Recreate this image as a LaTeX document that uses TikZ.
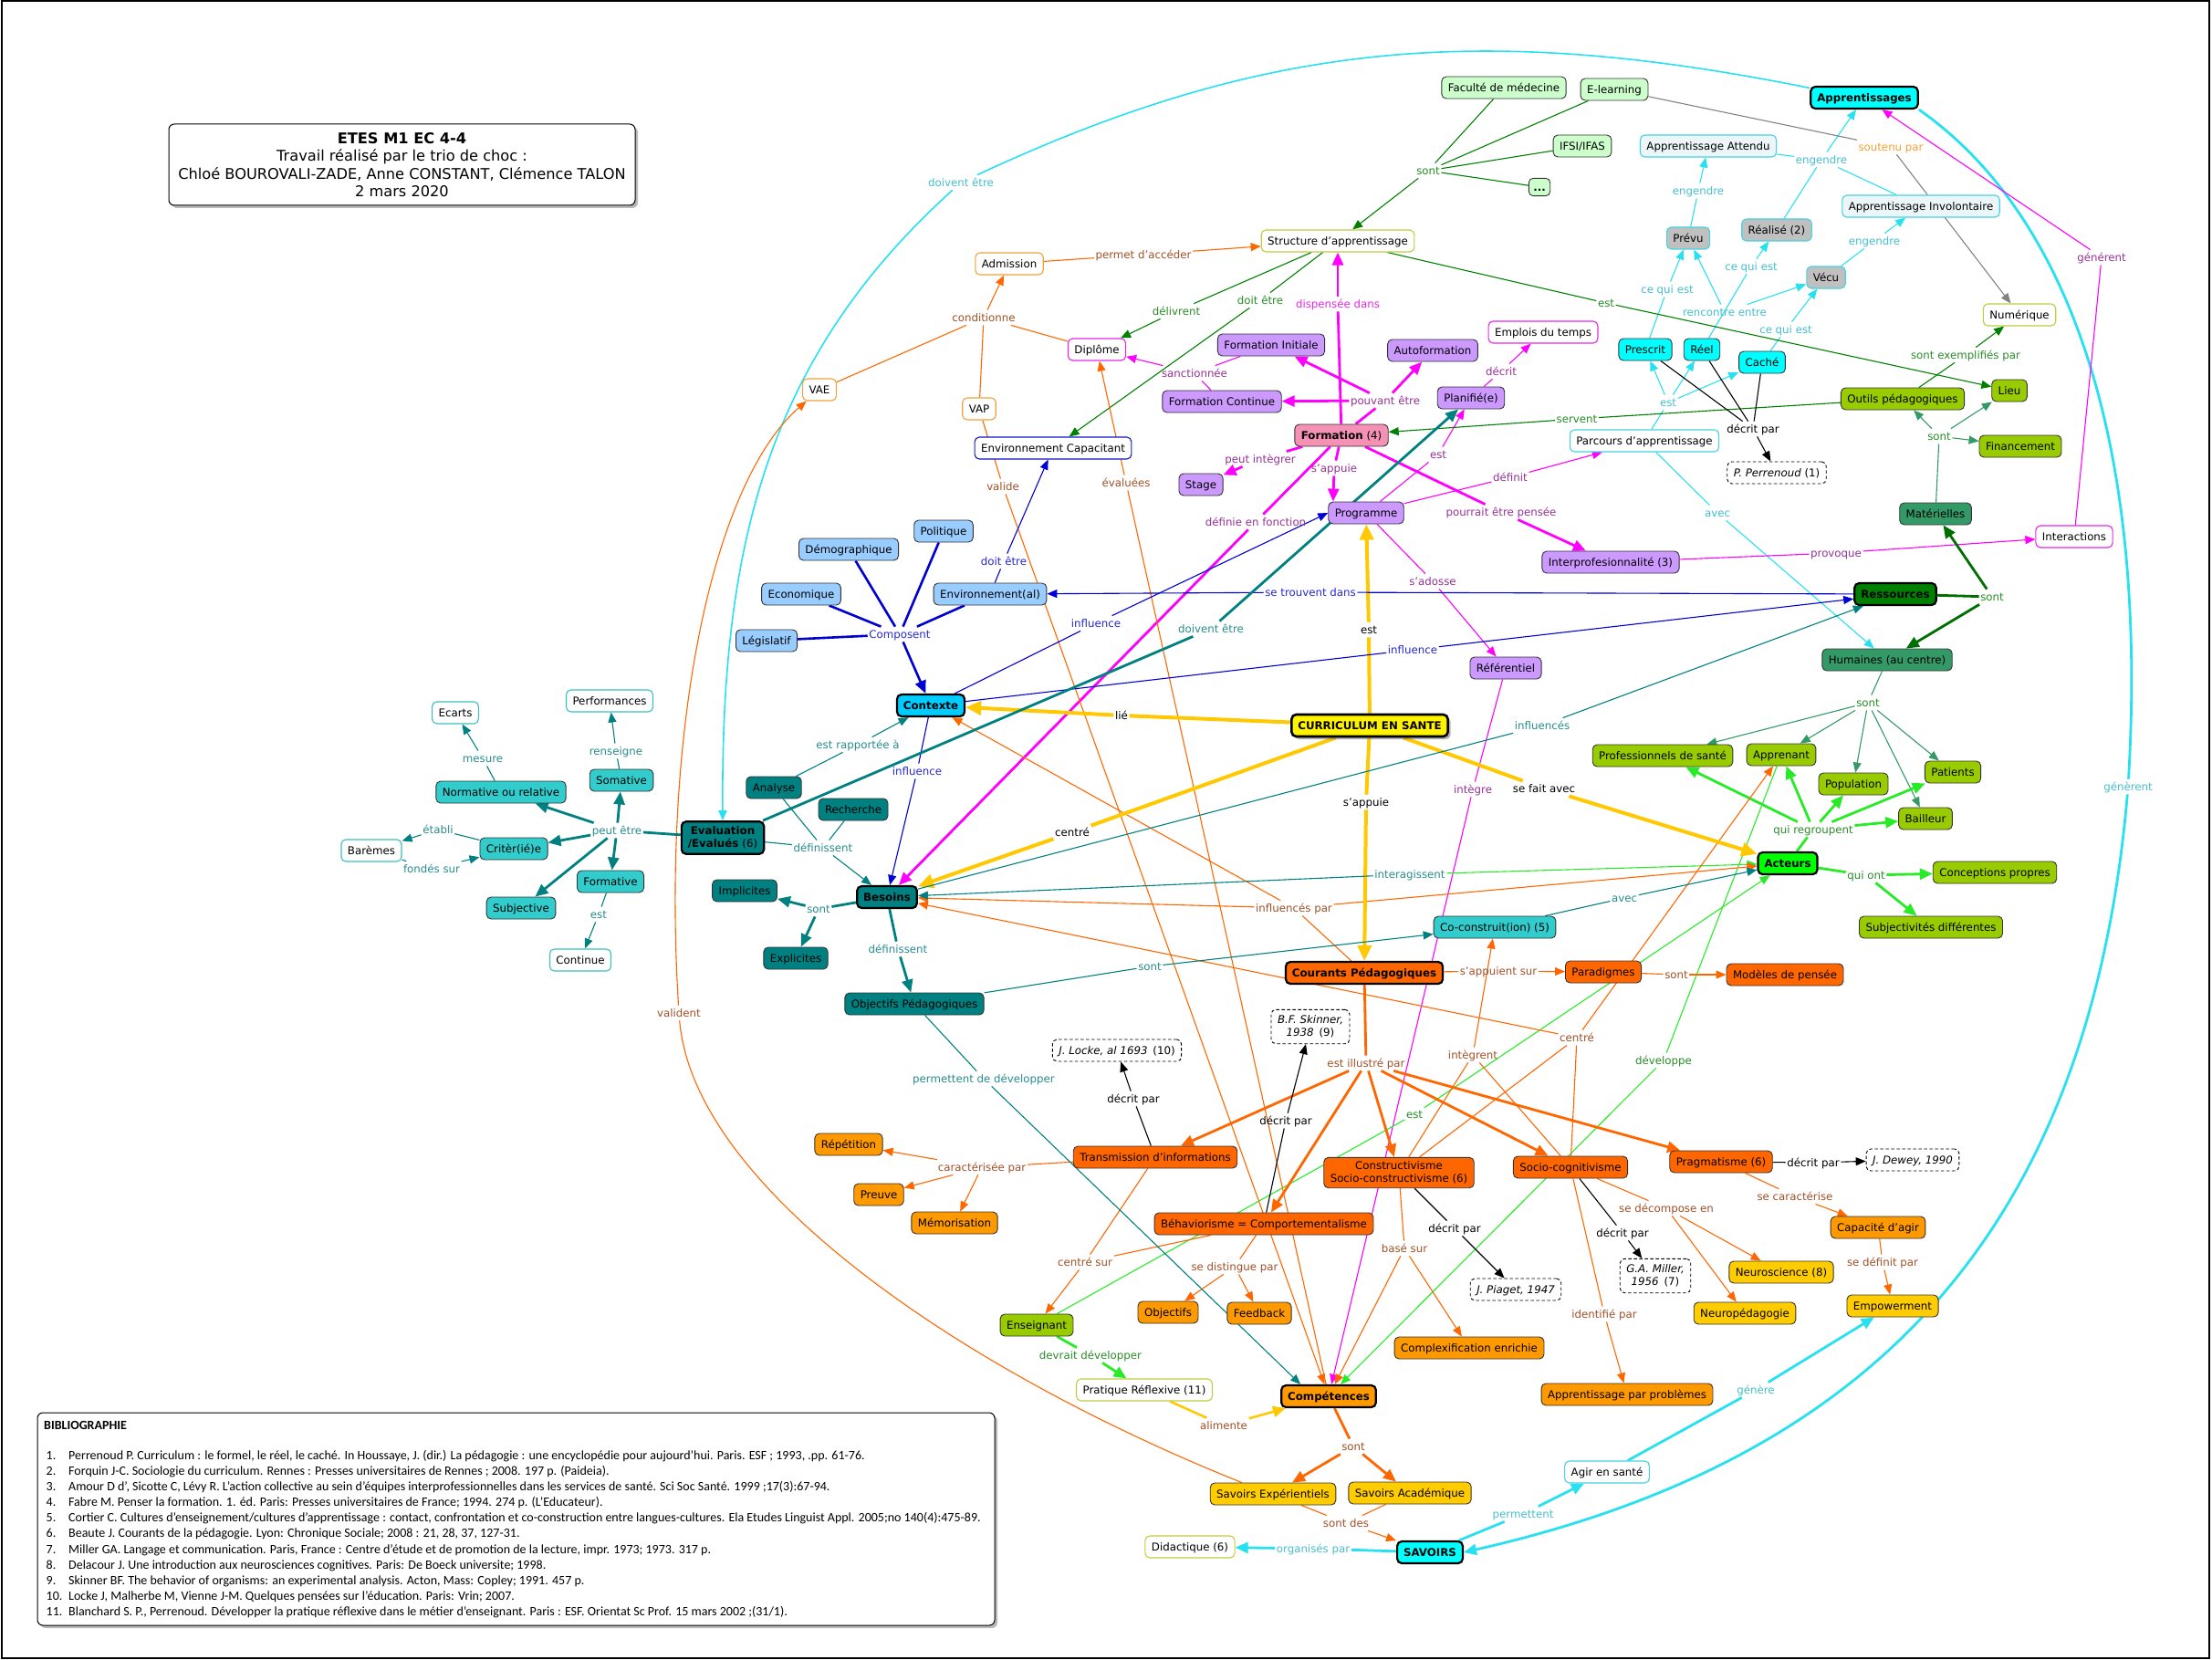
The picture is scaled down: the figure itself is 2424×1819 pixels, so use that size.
\documentclass[tikz,border=0pt]{standalone}
\usepackage{fontspec}
\setmainfont{DejaVu Sans}
\newfontfamily\biblfont{Carlito}
\usetikzlibrary{arrows.meta,shadows,backgrounds}

\definecolor{lcyan}{RGB}{40,225,240}
\definecolor{tcyan}{RGB}{70,190,205}
\definecolor{lmag}{RGB}{255,0,255}
\definecolor{tpurp}{RGB}{150,50,150}
\definecolor{tmag}{RGB}{230,40,230}
\definecolor{lgrn}{RGB}{0,128,0}
\definecolor{tgrn}{RGB}{40,140,40}
\definecolor{lsea}{RGB}{51,153,102}
\definecolor{ldgrn}{RGB}{0,110,0}
\definecolor{llime}{RGB}{40,235,40}
\definecolor{lorg}{RGB}{255,102,0}
\definecolor{tbrown}{RGB}{160,80,40}
\definecolor{torg}{RGB}{240,160,50}
\definecolor{lgold}{RGB}{255,200,0}
\definecolor{lblu}{RGB}{0,0,210}
\definecolor{tblu}{RGB}{40,40,210}
\definecolor{lteal}{RGB}{0,128,128}
\definecolor{tteal}{RGB}{40,140,140}
\definecolor{lgray}{RGB}{130,130,130}
\definecolor{fmint}{RGB}{204,255,204}
\definecolor{fpurp}{RGB}{204,153,255}
\definecolor{fpink}{RGB}{245,145,180}
\definecolor{fsky}{RGB}{153,204,255}
\definecolor{fctx}{RGB}{0,204,255}
\definecolor{fteal}{RGB}{0,128,128}
\definecolor{faqua}{RGB}{51,204,204}
\definecolor{fred}{RGB}{255,102,0}
\definecolor{famber}{RGB}{255,153,0}
\definecolor{fgold}{RGB}{255,204,0}
\definecolor{flime}{RGB}{153,204,0}
\definecolor{fgreen}{RGB}{0,255,0}
\definecolor{fdgrn}{RGB}{0,128,0}
\definecolor{fsea}{RGB}{51,153,102}
\definecolor{fcyan}{RGB}{0,255,255}
\definecolor{fgray}{RGB}{192,192,192}
\definecolor{fpale}{RGB}{236,245,248}
\definecolor{bolive}{RGB}{190,205,60}
\definecolor{borg}{RGB}{240,160,60}
\definecolor{bcyan}{RGB}{70,210,225}
\definecolor{bteal}{RGB}{60,190,190}
\definecolor{bmag}{RGB}{230,40,230}
\definecolor{bblu}{RGB}{20,20,200}

\begin{document}
\begin{tikzpicture}[x=1pt,y=-1pt,font=\fontsize{11.8}{14}\selectfont,
  cbox/.style={rectangle,rounded corners=5pt,draw=black!80,line width=0.9pt,
    inner xsep=7pt,inner ysep=3pt,minimum height=24pt,align=center,
    execute at begin node=\vphantom{Ág}},
  hubbox/.style={cbox,draw=black,line width=2.2pt,font=\fontsize{11.8}{14}\selectfont\bfseries},
  mintbox/.style={cbox,fill=fmint},
  purpbox/.style={cbox,fill=fpurp},
  skybox/.style={cbox,fill=fsky},
  tealbox/.style={cbox,fill=fteal},
  aquabox/.style={cbox,fill=faqua},
  redbox/.style={cbox,fill=fred},
  ambbox/.style={cbox,fill=famber},
  goldbox/.style={cbox,fill=fgold},
  limebox/.style={cbox,fill=flime},
  seabox/.style={cbox,fill=fsea},
  cyanbox/.style={cbox,fill=fcyan},
  graybox/.style={cbox,fill=fgray,draw=bcyan,line width=1.1pt},
  palebox/.style={cbox,fill=fpale,draw=bcyan,line width=1.1pt},
  wbox/.style={cbox,fill=white,line width=1.1pt},
  refbox/.style={cbox,fill=white,draw=black,dash pattern=on 3.5pt off 2.5pt},
  titlebox/.style={rectangle,rounded corners=6pt,draw=black,line width=1pt,fill=white,
    align=center,drop shadow={shadow xshift=3pt,shadow yshift=-3pt,fill=black!55}},
  lnk/.style={inner sep=1.5pt,execute at begin node=\vphantom{Ág}},
  tcy/.style={lnk,text=tcyan},
  tpu/.style={lnk,text=tpurp},
  tmg/.style={lnk,text=tmag},
  tgr/.style={lnk,text=tgrn},
  tbr/.style={lnk,text=tbrown},
  tor/.style={lnk,text=torg},
  tbk/.style={lnk,text=black},
  tbl/.style={lnk,text=tblu},
  ttl/.style={lnk,text=tteal},
  arr/.style={-{Triangle[length=11pt,width=9pt]}},
  bigarr/.style={-{Triangle[length=14pt,width=12pt]}},
  hugearr/.style={-{Triangle[length=17pt,width=15pt]}},
  cyanln/.style={color=lcyan,line width=1.1pt},
  cyanmid/.style={color=lcyan,line width=1.6pt},
  cyanthick/.style={color=lcyan,line width=2.8pt},
  magln/.style={color=lmag,line width=1.1pt},
  magthick/.style={color=lmag,line width=2.8pt},
  grnln/.style={color=lgrn,line width=1.1pt},
  sealn/.style={color=lsea,line width=1.1pt},
  dgrnthick/.style={color=ldgrn,line width=2.8pt},
  limeln/.style={color=llime,line width=1.1pt},
  limethick/.style={color=llime,line width=2.8pt},
  orgln/.style={color=lorg,line width=1.1pt},
  orgthick/.style={color=lorg,line width=2.8pt},
  goldthick/.style={color=lgold,line width=4pt},
  goldmid/.style={color=lgold,line width=2.5pt},
  bkln/.style={color=black,line width=1.1pt},
  bluln/.style={color=lblu,line width=1.1pt},
  bluthick/.style={color=lblu,line width=2.6pt},
  tealln/.style={color=lteal,line width=1.1pt},
  tealthick/.style={color=lteal,line width=2.8pt},
  grayln/.style={color=lgray,line width=1.1pt}]

\useasboundingbox (0,0) rectangle (2424,1819);

\node[titlebox,minimum width=511pt,minimum height=89pt,font=\fontsize{16.2}{19.5}\selectfont] (titre) at (440.5,180.5)
  {\textbf{ETES M1 EC 4-4}\\Travail réalisé par le trio de choc :\\Chloé BOUROVALI-ZADE, Anne CONSTANT, Clémence TALON\\2 mars 2020};

\node[titlebox,minimum width=1049pt,minimum height=233pt] (biblio) at (565.5,1664.5) {};
\node[anchor=north west,inner sep=0pt,align=left,font=\biblfont\fontsize{14}{17.1}\selectfont] (bibtxt) at (48,1557)
  {\textbf{BIBLIOGRAPHIE}\\[15.9pt]
  \makebox[27pt][l]{\hspace{2.5pt}1.}Perrenoud P. Curriculum : le formel, le réel, le caché. In Houssaye, J. (dir.) La pédagogie : une encyclopédie pour aujourd’hui. Paris. ESF ; 1993, .pp. 61-76.\\
  \makebox[27pt][l]{\hspace{2.5pt}2.}Forquin J-C. Sociologie du curriculum. Rennes : Presses universitaires de Rennes ; 2008. 197 p. (Paideia).\\
  \makebox[27pt][l]{\hspace{2.5pt}3.}Amour D d’, Sicotte C, Lévy R. L’action collective au sein d’équipes interprofessionnelles dans les services de santé. Sci Soc Santé. 1999 ;17(3):67-94.\\
  \makebox[27pt][l]{\hspace{2.5pt}4.}Fabre M. Penser la formation. 1. éd. Paris: Presses universitaires de France; 1994. 274 p. (L’Educateur).\\
  \makebox[27pt][l]{\hspace{2.5pt}5.}Cortier C. Cultures d’enseignement/cultures d’apprentissage : contact, confrontation et co-construction entre langues-cultures. Ela Etudes Linguist Appl. 2005;no 140(4):475-89.\\
  \makebox[27pt][l]{\hspace{2.5pt}6.}Beaute J. Courants de la pédagogie. Lyon: Chronique Sociale; 2008 : 21, 28, 37, 127-31.\\
  \makebox[27pt][l]{\hspace{2.5pt}7.}Miller GA. Langage et communication. Paris, France : Centre d’étude et de promotion de la lecture, impr. 1973; 1973. 317 p.\\
  \makebox[27pt][l]{\hspace{2.5pt}8.}Delacour J. Une introduction aux neurosciences cognitives. Paris: De Boeck universite; 1998.\\
  \makebox[27pt][l]{\hspace{2.5pt}9.}Skinner BF. The behavior of organisms: an experimental analysis. Acton, Mass: Copley; 1991. 457 p.\\
  \makebox[27pt][l]{\hspace{2.5pt}10.}Locke J, Malherbe M, Vienne J-M. Quelques pensées sur l’éducation. Paris: Vrin; 2007.\\
  \makebox[27pt][l]{\hspace{2.5pt}11.}Blanchard S. P., Perrenoud. Développer la pratique réflexive dans le métier d’enseignant. Paris : ESF. Orientat Sc Prof. 15 mars 2002 ;(31/1).};

\node[mintbox] (fac) at (1648,96) {Faculté de médecine};
\node[mintbox] (elearn) at (1769,98) {E-learning};
\node[mintbox] (ifsi) at (1734,160) {IFSI/IFAS};
\node[mintbox,minimum height=18pt,inner xsep=5pt,execute at begin node={}] (etc) at (1687,205) {\textbf{...}};
\node[wbox,draw=bolive] (struct) at (1466,264) {Structure d'apprentissage};
\node[wbox,draw=borg] (admis) at (1106,289) {Admission};
\node[wbox,draw=borg] (vae) at (898,427) {VAE};
\node[wbox,draw=borg] (vap) at (1073,448) {VAP};
\node[wbox,draw=bmag] (dipl) at (1202,383) {Diplôme};
\node[wbox,draw=bblu] (envcap) at (1154,491) {Environnement Capacitant};
\node[skybox] (demo) at (930,602) {Démographique};
\node[skybox] (polit) at (1034,582) {Politique};
\node[skybox] (eco) at (878,651) {Economique};
\node[skybox] (envir) at (1085,651) {Environnement(al)};
\node[skybox] (legis) at (840,702) {Législatif};
\node[hubbox,fill=fctx] (ctx) at (1020,773) {Contexte};

\node[wbox,draw=bteal] (perf) at (668,768) {Performances};
\node[wbox,draw=bteal] (ecarts) at (499,781) {Ecarts};
\node[aquabox] (norm) at (549,868) {Normative ou relative};
\node[aquabox] (somat) at (681,855) {Somative};
\node[aquabox] (critr) at (563,930) {Critèr(ié)e};
\node[wbox,draw=bteal] (baremes) at (407,932) {Barèmes};
\node[aquabox] (subj) at (571,995) {Subjective};
\node[aquabox] (format) at (669,966) {Formative};
\node[wbox,draw=bteal] (contin) at (636,1052) {Continue};
\node[hubbox,fill=fteal,inner ysep=5pt] (evalu) at (792,918) {Evaluation\\/Evalués \mdseries(6)};
\node[tealbox] (analyse) at (848,863) {Analyse};
\node[tealbox] (rech) at (935,887) {Recherche};
\node[tealbox] (impl) at (816,976) {Implicites};
\node[hubbox,fill=fteal] (besoins) at (972,983) {Besoins};
\node[tealbox] (expl) at (872,1050) {Explicites};
\node[tealbox] (objp) at (1002,1100) {Objectifs Pédagogiques};

\node[refbox] (locke) at (1224,1151) {\textit{J. Locke, al 1693}\enspace(10)};
\node[refbox,inner ysep=6pt] (skinner) at (1436,1125) {\textit{B.F. Skinner,}\\\textit{1938}\enspace(9)};
\node[ambbox] (repet) at (930,1254) {Répétition};
\node[ambbox] (preuve) at (963,1309) {Preuve};
\node[ambbox] (memo) at (1046,1340) {Mémorisation};
\node[redbox] (transm) at (1266,1268) {Transmission d'informations};
\node[limebox] (enseig) at (1136,1452) {Enseignant};
\node[wbox,draw=bolive] (prat) at (1254,1523) {Pratique Réflexive (11)};
\node[redbox] (behav) at (1385,1341) {Béhaviorisme = Comportementalisme};
\node[redbox,inner ysep=4pt] (constr) at (1533,1285) {Constructivisme\\Socio-constructivisme (6)};
\node[redbox] (sociocog) at (1721,1279) {Socio-cognitivisme};
\node[redbox] (pragm) at (1886,1273) {Pragmatisme (6)};
\node[refbox] (dewey) at (2096,1271) {\textit{J. Dewey, 1990}};
\node[refbox] (piaget) at (1661,1413) {\textit{J. Piaget, 1947}};
\node[refbox,inner ysep=6pt] (miller) at (1814,1398) {\textit{G.A. Miller,}\\\textit{1956}\enspace(7)};
\node[ambbox] (objf) at (1280,1438) {Objectifs};
\node[ambbox] (feedb) at (1380,1439) {Feedback};
\node[ambbox] (complex) at (1610,1477) {Complexification enrichie};
\node[hubbox,fill=famber] (compet) at (1456,1530) {Compétences};
\node[ambbox] (approb) at (1783,1528) {Apprentissage par problèmes};
\node[ambbox] (capag) at (2058,1345) {Capacité d'agir};
\node[goldbox] (neurosc) at (1952,1394) {Neuroscience (8)};
\node[goldbox] (neuroped) at (1912,1439) {Neuropédagogie};
\node[goldbox] (empow) at (2074,1431) {Empowerment};
\node[wbox,draw=bcyan] (agir) at (1761,1613) {Agir en santé};
\node[goldbox] (savexp) at (1395,1637) {Savoirs Expérientiels};
\node[goldbox] (savacad) at (1545,1636) {Savoirs Académique};
\node[wbox,draw=bolive] (didac) at (1304,1695) {Didactique (6)};
\node[hubbox,fill=fcyan] (savoirs) at (1567,1701) {SAVOIRS};

\node[hubbox,fill=yellow,line width=2.6pt,drop shadow={shadow xshift=3pt,shadow yshift=-3pt,fill=black!60}] (curr) at (1501,795) {CURRICULUM EN SANTE};
\node[hubbox,fill=fred] (courants) at (1495,1066) {Courants Pédagogiques};
\node[redbox] (parad) at (1757,1065) {Paradigmes};
\node[redbox] (modeles) at (1956,1068) {Modèles de pensée};
\node[aquabox] (cocon) at (1638,1016) {Co-construit(ion) (5)};
\node[purpbox] (referent) at (1650,732) {Référentiel};

\node[cbox,fill=fpink] (formation) at (1470,477) {\textbf{Formation} (4)};
\node[purpbox] (finit) at (1393,378) {Formation Initiale};
\node[purpbox] (fcont) at (1339,440) {Formation Continue};
\node[purpbox] (autof) at (1570,384) {Autoformation};
\node[wbox,draw=bmag] (emplois) at (1691,364) {Emplois du temps};
\node[purpbox] (planif) at (1612,436) {Planifié(e)};
\node[purpbox] (stage) at (1316,531) {Stage};
\node[purpbox] (progr) at (1497,562) {Programme};
\node[purpbox] (interpro) at (1765,616) {Interprofesionnalité (3)};
\node[wbox,draw=bcyan] (parcours) at (1802,483) {Parcours d'apprentissage};

\node[cyanbox] (prescrit) at (1803,383) {Prescrit};
\node[cyanbox] (reel) at (1865,383) {Réel};
\node[cyanbox] (cache) at (1931,397) {Caché};
\node[refbox] (perren) at (1947,518) {\textit{P. Perrenoud} (1)};
\node[graybox] (prevu) at (1850,261) {Prévu};
\node[graybox] (realise) at (1947,252) {Réalisé (2)};
\node[graybox] (vecu) at (2001,304) {Vécu};
\node[palebox] (attendu) at (1872,160) {Apprentissage Attendu};
\node[palebox] (involont) at (2105,226) {Apprentissage Involontaire};
\node[hubbox,fill=fcyan] (apprent) at (2043,107) {Apprentissages};

\node[wbox,draw=bolive] (numer) at (2213,345) {Numérique};
\node[limebox] (outils) at (2085,437) {Outils pédagogiques};
\node[limebox] (lieu) at (2202,428) {Lieu};
\node[limebox] (financ) at (2214,489) {Financement};
\node[seabox] (mater) at (2121,563) {Matérielles};
\node[wbox,draw=bmag] (interact) at (2273,588) {Interactions};
\node[hubbox,fill=fdgrn] (ressources) at (2077,651) {Ressources};
\node[seabox] (humaines) at (2068,723) {Humaines (au centre)};
\node[limebox] (profsante) at (1822,828) {Professionnels de santé};
\node[limebox] (apprenant) at (1952,827) {Apprenant};
\node[limebox] (population) at (2031,859) {Population};
\node[limebox] (patients) at (2140,846) {Patients};
\node[limebox] (bailleur) at (2110,897) {Bailleur};
\node[hubbox,fill=fgreen] (acteurs) at (1959,946) {Acteurs};
\node[limebox] (concep) at (2186,956) {Conceptions propres};
\node[limebox] (subjdiff) at (2116,1016) {Subjectivités différentes};

\node[tcy] (ldoivent) at (1053,200) {doivent être};
\node[tcy] (lgenrt) at (2332,862) {génèrent};
\node[tcy] (lengA) at (1861,209) {engendre};
\node[tcy] (lengB) at (1996,175) {engendre};
\node[tcy] (lengC) at (2054,264) {engendre};
\node[tcy] (lcqe1) at (1827,317) {ce qui est};
\node[tcy] (lcqe2) at (1919,292) {ce qui est};
\node[tcy] (lcqe3) at (1957,361) {ce qui est};
\node[tcy] (lrenc) at (1890,342) {rencontre entre};
\node[tcy] (lestc) at (1828,441) {est};
\node[tcy] (lavec) at (1882,562) {avec};
\node[tcy] (lgenere) at (1924,1523) {génère};
\node[tcy] (lpermettent) at (1669,1659) {permettent};
\node[tcy] (lorgan) at (1439,1697) {organisés par};

\node[tpu] (lgenerent) at (2303,282) {générent};
\node[tpu] (lprovoque) at (2012,606) {provoque};
\node[tmg] (ldispensee) at (1466,333) {dispensée dans};
\node[tpu] (lpouvant) at (1518,439) {pouvant être};
\node[tpu] (lsanct) at (1309,409) {sanctionnée};
\node[tpu] (lpeutint) at (1381,503) {peut intègrer};
\node[tpu] (lsappuie) at (1462,513) {s'appuie};
\node[tpu] (ldefinie) at (1376,572) {définie en fonction};
\node[tpu] (lpourrait) at (1645,561) {pourrait être pensée};
\node[tpu] (lestp) at (1576,498) {est};
\node[tpu] (ldecrit) at (1645,407) {décrit};
\node[tpu] (ldefinit) at (1655,523) {définit};
\node[tpu] (lsadosse) at (1570,637) {s'adosse};
\node[tpu] (lintegre) at (1614,865) {intègre};

\node[tgr] (lsont1) at (1565,187) {sont};
\node[tgr] (ldelivrent) at (1289,341) {délivrent};
\node[tgr] (ldoitg) at (1381,329) {doit être};
\node[tgr] (lestg) at (1760,332) {est};
\node[tgr] (lservent) at (1728,459) {servent};
\node[tgr] (lexempl) at (2154,389) {sont exemplifiés par};
\node[tgr] (lsont2) at (2125,478) {sont};
\node[tgr] (lsont3) at (2183,654) {sont};
\node[tgr] (lsont4) at (2047,770) {sont};
\node[tgr] (lregroup) at (1987,909) {qui regroupent};
\node[tgr] (lquiont) at (2045,959) {qui ont};
\node[tgr] (ldevelop) at (1823,1162) {développe};
\node[tgr] (lestgr) at (1550,1221) {est};
\node[tgr] (ldevrait) at (1195,1485) {devrait développer};

\node[tbr] (lpermet) at (1253,279) {permet d'accéder};
\node[tbr] (lcondit) at (1078,348) {conditionne};
\node[tbr] (lvalide) at (1099,533) {valide};
\node[tbr] (levaluees) at (1234,529) {évaluées};
\node[tbr] (lvalident) at (744,1110) {valident};
\node[tor] (lsoutenu) at (2072,161) {soutenu par};
\node[tbr] (linflpar) at (1418,995) {influencés par};
\node[tbr] (lsappsur) at (1642,1064) {s'appuient sur};
\node[tbr] (lsontb) at (1837,1068) {sont};
\node[tbr] (lcentre2) at (1728,1137) {centré};
\node[tbr] (lintegrent) at (1614,1156) {intègrent};
\node[tbr] (lillustre) at (1497,1165) {est illustré par};
\node[tbr] (lcaract) at (1076,1279) {caractérisée par};
\node[tbr] (lcentresur) at (1189,1383) {centré sur};
\node[tbr] (ldistingue) at (1353,1388) {se distingue par};
\node[tbr] (lbase) at (1539,1368) {basé sur};
\node[tbr] (ldecompose) at (1826,1324) {se décompose en};
\node[tbr] (lidentifie) at (1758,1440) {identifié par};
\node[tbr] (lsecar) at (1967,1311) {se caractérise};
\node[tbr] (lsedefinit) at (2063,1383) {se définit par};
\node[tbr] (lalimente) at (1341,1562) {alimente};
\node[tbr] (lsontc) at (1483,1585) {sont};
\node[tbr] (lsontdes) at (1475,1669) {sont des};

\node[tbk] (llie) at (1229,784) {lié};
\node[tbk] (lestk) at (1500,690) {est};
\node[tbk] (lsappuiek) at (1497,879) {s'appuie};
\node[tbk] (lfaitavec) at (1692,864) {se fait avec};
\node[tbk] (lcentrek) at (1175,912) {centré};
\node[tbk] (ldecritp) at (1921,470) {décrit par};
\node[tbk] (ldlocke) at (1242,1204) {décrit par};
\node[tbk] (ldskinner) at (1409,1228) {décrit par};
\node[tbk] (ldpiaget) at (1594,1346) {décrit par};
\node[tbk] (ldmiller) at (1778,1351) {décrit par};
\node[tbk] (lddewey) at (1987,1274) {décrit par};

\node[tbl] (lcompo) at (986,695) {Composent};
\node[tbl] (ldoitb) at (1100,615) {doit être};
\node[tbl] (ltrouvent) at (1436,649) {se trouvent dans};
\node[tbl] (linfl1) at (1201,683) {influence};
\node[tbl] (linfl2) at (1005,845) {influence};
\node[tbl] (linfl3) at (1548,712) {influence};

\node[ttl] (lmesure) at (529,831) {mesure};
\node[ttl] (lrenseigne) at (675,823) {renseigne};
\node[ttl] (letabli) at (480,909) {établi};
\node[ttl] (lfondes) at (473,952) {fondés sur};
\node[ttl] (lpeutetre) at (676,910) {peut être};
\node[ttl] (lestt) at (656,1002) {est};
\node[ttl] (lrapportee) at (940,816) {est rapportée à};
\node[ttl] (ldefiniss1) at (902,929) {définissent};
\node[ttl] (lsontt) at (897,996) {sont};
\node[ttl] (ldefiniss2) at (984,1040) {définissent};
\node[ttl] (lpermdev) at (1078,1182) {permettent de développer};
\node[ttl] (ldoiventt) at (1327,689) {doivent être};
\node[ttl] (linfluences) at (1690,795) {influencés};
\node[ttl] (linterag) at (1545,958) {interagissent};
\node[ttl] (lsontco) at (1260,1059) {sont};
\node[ttl] (lavect) at (1780,984) {avec};

\begin{pgfonlayer}{background}
\draw[line width=1.2pt] (2,1) rectangle (2421,1817);

\draw[cyanmid] (apprent.170) .. controls (1624,24) and (1385,45) .. (ldoivent);
\draw[cyanmid,arr] (ldoivent) .. controls (837,395) and (790,605) .. (evalu.north);
\draw[cyanthick] (apprent.south east) .. controls (2260,230) and (2355,470) .. (lgenrt);
\draw[cyanthick,bigarr] (lgenrt) .. controls (2290,1350) and (2050,1600) .. (savoirs.east);
\path[cyanln] (prescrit) edge (lcqe1) (reel) edge (lcqe2) (cache) edge (lcqe3)
  (prevu) edge (lengA) (vecu) edge (lengC)
  (attendu) edge (lengB) (involont) edge (lengB) (realise) edge (lengB)
  (parcours) edge (lestc) edge (lavec);
\path[cyanln,arr] (lcqe1) edge (prevu) (lcqe2) edge (realise) (lcqe3) edge (vecu)
  (lrenc) edge (prevu) edge (vecu)
  (lengA) edge (attendu) (lengC) edge (involont) (lengB) edge (apprent)
  (lestc) edge (prescrit) edge (reel) edge (cache)
  (lavec) edge (humaines);
\path[cyanthick] (savoirs) edge (lorgan) edge (lpermettent) (agir) edge (lgenere);
\path[cyanthick,bigarr] (lorgan) edge (didac) (lpermettent) edge (agir) (lgenere) edge (empow);

\path[magln] (interact) edge (lgenerent) (interpro) edge (lprovoque)
  (finit) edge (lsanct) (fcont) edge (lsanct)
  (progr) edge (lestp) edge (ldefinit) edge (lsadosse) (planif) edge (ldecrit)
  (referent) edge (lintegre);
\path[magln,arr] (lgenerent) edge (apprent) (lprovoque) edge (interact) (lsanct) edge (dipl)
  (lestp) edge (planif) (ldecrit) edge (emplois) (ldefinit) edge (parcours) (lsadosse) edge (referent)
  (lintegre) edge (compet);
\path[magthick] (formation) edge (ldispensee) edge (lpouvant) edge (lpeutint) edge (lsappuie) edge (lpourrait) edge (ldefinie);
\path[magthick,bigarr] (ldispensee) edge (struct) (lpouvant) edge (finit) edge (fcont) edge (autof)
  (lpeutint) edge (stage) (lsappuie) edge (progr.161) (lpourrait) edge (interpro) (ldefinie) edge (besoins);

\path[grnln] (fac) edge (lsont1) (elearn) edge (lsont1) (ifsi) edge (lsont1) (etc) edge (lsont1)
  (struct) edge (ldelivrent) edge (ldoitg) edge (lestg)
  (outils) edge (lservent) edge (lexempl);
\path[grnln,arr] (lsont1) edge (struct) (ldelivrent) edge (dipl) (ldoitg) edge (envcap) (lestg) edge (lieu)
  (lservent) edge (formation) (lexempl) edge (numer);
\path[sealn] (mater) edge (lsont2) (humaines) edge (lsont4);
\path[sealn,arr] (lsont2) edge (outils) edge (lieu) edge (financ)
  (lsont4) edge (profsante) edge (apprenant) edge (population) edge (bailleur) edge (patients);
\path[dgrnthick] (ressources) edge (lsont3);
\path[dgrnthick,bigarr] (lsont3) edge (mater) edge (humaines);
\path[limethick] (acteurs) edge (lregroup) edge (lquiont) (enseig) edge (ldevrait);
\path[limethick,bigarr] (lregroup) edge (profsante) edge (apprenant) edge (population) edge (patients) edge (bailleur)
  (lquiont) edge (concep) edge (subjdiff) (ldevrait) edge (prat);
\path[limeln] (apprenant) edge (ldevelop) (enseig) edge (lestgr);
\path[limeln,arr] (ldevelop) edge (compet) (lestgr) edge (acteurs) (linterag) edge (acteurs);

\path[orgln] (admis) edge (lpermet) (vae) edge (lcondit) (vap) edge (lcondit) (dipl) edge (lcondit)
  (vap) edge (lvalide) (compet) edge (levaluees)
  (courants) edge (linflpar) edge (lsappsur) (parad) edge (lsontb)
  (constr) edge (lcentre2) edge (lintegrent) edge (lbase)
  (sociocog) edge (lcentre2) edge (lintegrent) edge (ldecompose) edge (lidentifie)
  (transm) edge (lcaract) edge (lcentresur) (behav) edge (lcentresur) edge (ldistingue)
  (pragm) edge (lsecar) (capag) edge (lsedefinit)
  (savexp) edge (lsontdes) (savacad) edge (lsontdes);
\path[orgln,arr] (lpermet) edge (struct) (lcondit) edge (admis) (lvalide) edge (compet) (levaluees) edge (dipl)
  (linflpar) edge (ctx) edge (besoins) edge (acteurs) (lsappsur) edge (parad) (lsontb) edge (modeles)
  (lcentre2) edge (besoins) edge (apprenant) (lintegrent) edge (cocon)
  (lcaract) edge (repet) edge (preuve) edge (memo) (lcentresur) edge (enseig)
  (ldistingue) edge (objf) edge (feedb) (lbase) edge (complex) edge (compet)
  (ldecompose) edge (neurosc) edge (neuroped) (lidentifie) edge (approb)
  (lsecar) edge (capag) (lsedefinit) edge (empow) (lsontdes) edge (savoirs);
\draw[orgln] (savexp.160) .. controls (1050,1500) and (760,1300) .. (lvalident);
\draw[orgln,arr] (lvalident) .. controls (725,800) and (780,530) .. (vae);
\path[orgthick] (courants) edge (lillustre) (compet) edge (lsontc);
\path[orgthick,bigarr] (lillustre) edge (transm) edge (behav) edge (constr) edge (sociocog) edge (pragm)
  (lsontc) edge (savexp) edge (savacad);

\path[grayln] (elearn) edge (lsoutenu);
\path[grayln,arr] (lsoutenu) edge (numer);

\path[goldthick] (curr) edge (llie) edge (lestk) edge (lsappuiek) edge (lfaitavec) edge (lcentrek);
\path[goldthick,hugearr] (llie) edge (ctx) (lestk) edge (progr) (lsappuiek) edge (courants)
  (lfaitavec) edge (acteurs) (lcentrek) edge (besoins);
\path[goldmid] (prat) edge (lalimente);
\path[goldmid,bigarr] (lalimente) edge (compet);

\path[bkln] (prescrit) edge (ldecritp) (reel) edge (ldecritp) (cache) edge (ldecritp)
  (transm) edge (ldlocke) (behav) edge (ldskinner) (constr) edge (ldpiaget)
  (sociocog) edge (ldmiller) (pragm) edge (lddewey);
\path[bkln,arr] (ldecritp) edge (perren) (ldlocke) edge (locke) (ldskinner) edge (skinner)
  (ldpiaget) edge (piaget) (ldmiller) edge (miller) (lddewey) edge (dewey);

\path[bluthick] (demo) edge (lcompo) (polit) edge (lcompo) (eco) edge (lcompo) (legis) edge (lcompo) (envir) edge (lcompo);
\path[bluthick,bigarr] (lcompo) edge (ctx);
\path[bluln] (envir) edge (ldoitb) (ressources) edge (ltrouvent) (ctx) edge (linfl1) edge (linfl2) edge (linfl3);
\path[bluln,arr] (ldoitb) edge (envcap) (ltrouvent) edge (envir) (linfl1) edge (progr.west)
  (linfl2) edge (besoins) (linfl3) edge (ressources);

\path[tealln] (norm) edge (lmesure) (somat) edge (lrenseigne) (critr) edge (letabli) (baremes) edge (lfondes) (format) edge (lestt)
  (analyse) edge (lrapportee) edge (ldefiniss1) (rech) edge (ldefiniss1) (evalu) edge (ldefiniss1)
  (objp) edge (lpermdev) edge (lsontco) (besoins) edge (linfluences) (cocon) edge (lavect);
\path[tealln,arr] (lmesure) edge (ecarts) (lrenseigne) edge (perf) (letabli) edge (baremes) (lfondes) edge (critr) (lestt) edge (contin)
  (lrapportee) edge (ctx) (ldefiniss1) edge (besoins) (lpermdev) edge (compet.157) (lsontco) edge (cocon)
  (linfluences) edge (ressources) (lavect) edge (acteurs) (linterag) edge (besoins);
\path[tealthick] (evalu) edge (lpeutetre) edge (ldoiventt) (besoins) edge (lsontt) edge (ldefiniss2);
\path[tealthick,bigarr] (lpeutetre) edge (norm) edge (critr) edge (subj) edge (somat) edge (format)
  (ldoiventt) edge (planif) (lsontt) edge (impl) edge (expl) (ldefiniss2) edge (objp);
\end{pgfonlayer}
\end{tikzpicture}
\end{document}
